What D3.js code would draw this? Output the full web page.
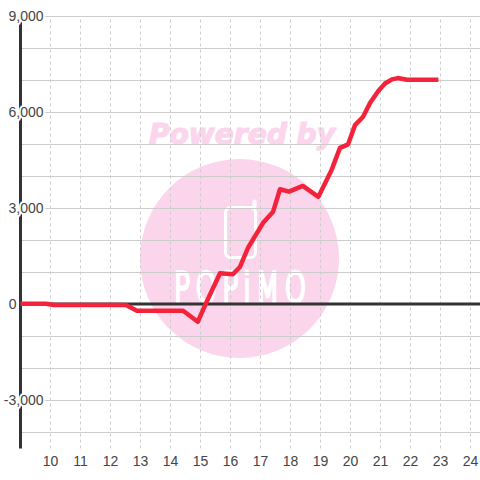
<!DOCTYPE html>
<html><head><meta charset="utf-8">
<script src="https://cdn.jsdelivr.net/npm/d3@7"></script>
<style>
html,body{margin:0;padding:0;background:#fff}
svg{display:block}
text{font-family:"Liberation Sans",Arial,sans-serif}
</style></head><body>
<svg id="c" width="480" height="480"></svg>
<script>
const hours=[9,9.85,10.12,12.48,12.58,12.88,14.42,14.91,15.23,15.42,15.65,16.08,16.32,16.58,17.08,17.42,17.65,17.95,18.41,18.93,19.37,19.65,19.92,20.15,20.42,20.65,20.92,21.15,21.38,21.58,21.88,22.93];
const values=[10,10,-30,-30,-60,-210,-210,-555,120,500,960,930,1165,1750,2530,2885,3585,3510,3690,3350,4190,4880,4990,5590,5850,6280,6650,6890,7020,7060,7010,7010];
const xTicks=[10,11,12,13,14,15,16,17,18,19,20,21,22,23,24];
const yGrid=[-4000,-3000,-2000,-1000,0,1000,2000,3000,4000,5000,6000,7000,8000,9000];
const yLabels=[-3000,0,3000,6000,9000];
const watermarkTop="Powered by";
const watermarkLogo="POPiMO";

const svg=d3.select("#c");
const x=d3.scaleLinear().domain([9,24]).range([20.5,470.5]);
const y=d3.scaleLinear().domain([0,9000]).range([304,16]);
const fmt=d=>d3.format(",")(d).replace("\u2212","-");
const yBottom=y(-4500)+0.5;

// watermark
const wm=svg.append("g");
wm.append("circle").attr("cx",239.5).attr("cy",258.5).attr("r",99.5).attr("fill","#fbd5ec");
wm.append("text").text(watermarkTop).attr("x",149).attr("y",143.5)
  .style("font-family","'DejaVu Sans'").attr("font-size",27.5).attr("font-weight","bold").attr("font-style","italic")
  .attr("textLength",186).attr("lengthAdjust","spacingAndGlyphs").attr("fill","#fbd5ec")
  .attr("stroke","#fbd5ec").attr("stroke-width",1.2);
wm.append("rect").attr("x",225.5).attr("y",207.5).attr("width",30).attr("height",50).attr("rx",5)
  .attr("fill","none").attr("stroke","#fff").attr("stroke-width",3);
wm.append("path").attr("d","M254.5 209 V201.5").attr("stroke","#fff").attr("stroke-width",4).attr("stroke-linecap","round");
wm.append("text").text(watermarkLogo).attr("transform","translate(174,302) scale(0.66,1)")
  .style("font-family","'DejaVu Sans'").style("font-weight",200).attr("font-size",41).attr("fill","#fff")
  .attr("stroke","#fff").attr("stroke-width",3.6)
  .attr("textLength",200).attr("lengthAdjust","spacing");

// gridlines
const gx=svg.append("g").attr("transform",`translate(0,${yBottom})`)
  .call(d3.axisBottom(x).offset(0).tickValues(xTicks).tickSize(-(yBottom-16)).tickFormat(""));
gx.select(".domain").remove();
gx.selectAll("line").attr("stroke","#ccc").attr("stroke-width",1).attr("stroke-dasharray","3,3");

const gy=svg.append("g").attr("transform","translate(480,0)")
  .call(d3.axisLeft(y).offset(0).tickValues(yGrid).tickSize(460).tickFormat(""));
gy.select(".domain").remove();
gy.selectAll("line").attr("stroke","#ccc").attr("stroke-width",1);
gy.selectAll(".tick").attr("transform",d=>`translate(0,${Math.floor(y(d))+0.5})`);

// zero line and left axis
svg.append("line").attr("x1",20).attr("x2",480).attr("y1",y(0)).attr("y2",y(0)).attr("stroke","#333").attr("stroke-width",3);
svg.append("line").attr("x1",20.5).attr("x2",20.5).attr("y1",16).attr("y2",yBottom).attr("stroke","#333").attr("stroke-width",3);

// labels
const ly=svg.append("g").attr("transform","translate(43.5,1)")
  .call(d3.axisLeft(y).offset(0).tickValues(yLabels).tickSize(0).tickPadding(0).tickFormat(fmt));
ly.select(".domain").remove();
ly.selectAll("text").attr("font-size",14).attr("fill","#444")
  .attr("x",d=>d===0?-27:0)
  .attr("stroke","#fff").attr("stroke-width",4).attr("paint-order","stroke").attr("stroke-linejoin","round")
  .style("font-family",'"Liberation Sans",Arial,sans-serif');
const lx=svg.append("g").attr("transform","translate(0,466)")
  .call(d3.axisBottom(x).offset(0).tickValues(xTicks).tickSize(0).tickPadding(0).tickFormat(d=>d));
lx.select(".domain").remove();
lx.selectAll("text").attr("font-size",14).attr("fill","#444").attr("dy",0)
  .style("font-family",'"Liberation Sans",Arial,sans-serif');

// series
const line=d3.line().x((d,i)=>x(hours[i])).y(d=>y(d)).curve(d3.curveLinear);
svg.append("path").datum(values).attr("d",line).attr("fill","none")
  .attr("stroke","#f4233c").attr("stroke-width",4.5).attr("stroke-linejoin","round");
</script></body></html>
